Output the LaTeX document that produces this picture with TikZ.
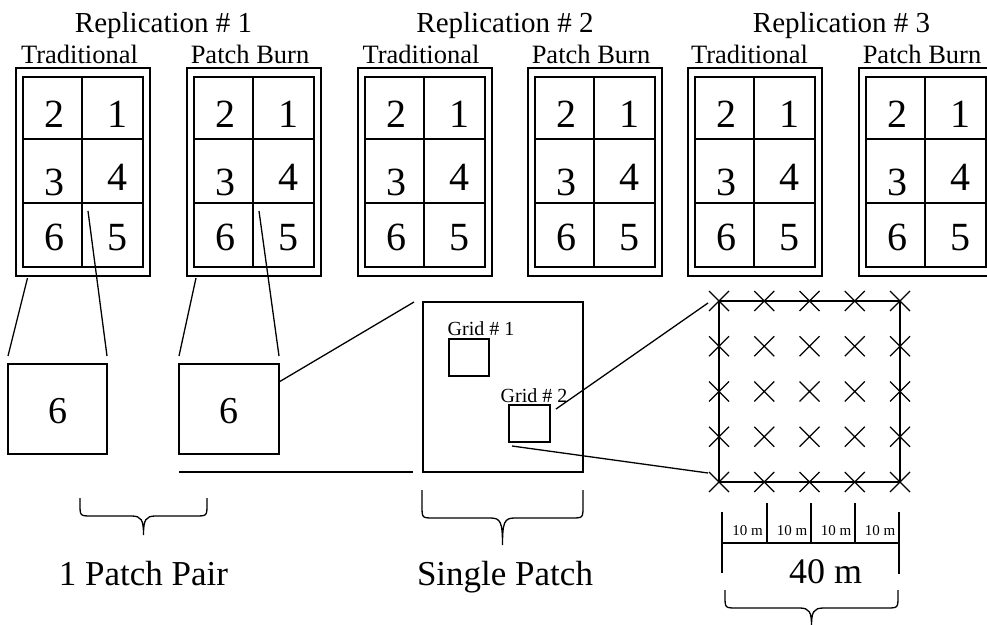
\documentclass[tikz,border=0pt]{standalone}
\usepackage{fontspec}
\setmainfont{Liberation Serif}
\usetikzlibrary{calc}

% Fonts at fixed sizes (1 unit = 1pt)
\newcommand\fsz[1]{\fontsize{#1}{#1}\selectfont}

% One pasture: outer frame, inner frame split into 2 x 3 patches, numbered
% #1 = name, #2 = left edge of the outer frame
\newcommand\pasture[2]{%
  \node[frame, minimum width=134, minimum height=208, anchor=north west] (#1) at (#2,68) {};
  \node[frame, minimum width=120, minimum height=190, anchor=north west] (#1in) at (#2+7,77) {};
  \draw[thin line] (#2+66,77) -- (#2+66,267);
  \draw[thin line] (#2+7,139) -- (#2+127,139);
  \draw[thin line] (#2+7,203) -- (#2+127,203);
  \node[digit] (#1p2) at (#2+38,127) {2};
  \node[digit] (#1p1) at (#2+101,127) {1};
  \node[digit] (#1p3) at (#2+38,195) {3};
  \node[digit] (#1p4) at (#2+101,190) {4};
  \node[digit] (#1p6) at (#2+38,250) {6};
  \node[digit] (#1p5) at (#2+101,250) {5};
}

% Curly brace opening downwards
% #1 left x, #2 right x, #3 top of the ends, #4 level of the bar, #5 tip
\newcommand\curlybrace[5]{%
  \draw (#1,#3) -- (#1,#4-12) .. controls (#1,#4) .. (#1+12,#4)
    -- ({(#1+#2)/2-12},#4) .. controls ({(#1+#2)/2-2},#4) and ({(#1+#2)/2},#4+4) .. ({(#1+#2)/2},#5)
    .. controls ({(#1+#2)/2},#4+4) and ({(#1+#2)/2+2},#4) .. ({(#1+#2)/2+12},#4)
    -- (#2-12,#4) .. controls (#2,#4) .. (#2,#4-12) -- (#2,#3);
}

\begin{document}
\begin{tikzpicture}[x=1pt, y=-1pt, line width=1.3pt,
  frame/.style={draw, line width=1.4pt, inner sep=0pt, outer sep=0pt},
  thin line/.style={line width=1.2pt},
  digit/.style={anchor=base, inner sep=0pt, font=\fsz{40}},
  head/.style={anchor=base, inner sep=0pt, font=\fsz{29}},
  sub/.style={anchor=base, inner sep=0pt, font=\fsz{26.5}},
  caption/.style={anchor=base, inner sep=0pt, font=\fsz{35}},
  small/.style={anchor=base, inner sep=0pt, font=\fsz{15}},
  gridlabel/.style={anchor=base west, inner sep=0pt, font=\fsz{20}},
  crossmark/.style={line width=1.1pt}]

\useasboundingbox (0,0) rectangle (987,624);
\clip (0,0) rectangle (987,624);

% ---- Replication headings ----
\node[head] (rep1) at (163.5,32) {Replication \# 1};
\node[head] (rep2) at (505,32) {Replication \# 2};
\node[head] (rep3) at (841.5,32) {Replication \# 3};

% ---- Treatment labels ----
\node[sub] (lt1) at (79.5,63) {Traditional};
\node[sub] (lb1) at (250,63) {Patch Burn};
\node[sub] (lt2) at (421,63) {Traditional};
\node[sub] (lb2) at (591,63) {Patch Burn};
\node[sub] (lt3) at (749.5,63) {Traditional};
\node[sub] (lb3) at (922,63) {Patch Burn};

% ---- Pastures ----
\pasture{T1}{16}
\pasture{B1}{187}
\pasture{T2}{358}
\pasture{B2}{528}
\pasture{T3}{688}
\pasture{B3}{859}

% ---- Enlarged patch 6 of each pasture in replication 1 ----
\node[frame, minimum width=99, minimum height=90] (s1) at (57.5,409) {};
\node[frame, minimum width=100, minimum height=90] (s2) at (229,409) {};
\node[digit, font=\fsz{38}] (s1n) at (57.5,423) {6};
\node[digit, font=\fsz{38}] (s2n) at (229,423) {6};

\coordinate (t1l) at (27.5,278);
\coordinate (t1r) at (88,211);
\coordinate (b1l) at (196,278);
\coordinate (b1r) at (259,211);
\draw (t1l) -- ($(s1.north west)+(0,-8)$);
\draw (t1r) -- ($(s1.north east)+(0,-8)$);
\draw (b1l) -- ($(s2.north west)+(0,-8)$);
\draw (b1r) -- ($(s2.north east)+(0,-8)$);

% ---- Single patch with its two sampling grids ----
\node[frame, minimum width=160, minimum height=170] (sp) at (503,387) {};
\node[frame, minimum width=40, minimum height=37] (g1) at (469,357.5) {};
\node[frame, minimum width=41, minimum height=37] (g2) at (529.5,423.5) {};
\node[gridlabel] (g1l) at (447,335) {Grid \# 1};
\node[gridlabel] (g2l) at (500,402) {Grid \# 2};

\draw ($(s2.north east)+(0,18)$) -- ($(sp.north west)+(-9,0)$);
\coordinate (baseL) at (179,472);
\coordinate (baseR) at (413,472);
\draw (baseL) -- (baseR);

% ---- Enlarged grid with sampling points ----
\node[frame, line width=1.2pt, minimum width=181, minimum height=181] (big) at (809.5,391.5) {};
\foreach \i in {0,...,4}
  \foreach \j in {0,...,4}
    \draw[crossmark] (719+45.25*\i-10,301+45.25*\j-10) -- ++(20,20)
                     (719+45.25*\i-10,301+45.25*\j+10) -- ++(20,-20);

\draw ($(g2.north east)+(6,4)$) -- ($(big.north west)+(-11,2)$);
\draw ($(g2.south west)+(3,4)$) -- ($(big.south west)+(-11,-9)$);

% ---- Scale bar ----
\coordinate (sb0) at (722,543);
\coordinate (sb4) at (899,543);
\draw[thin line] (sb0) -- (sb4);
\draw[thin line] (722,512) -- (722,573);
\draw[thin line] (899,512) -- (899,574);
\foreach \x in {767,811,855}
  \draw[thin line] (\x,503) -- (\x,543);
\foreach \x/\n in {747.5/a,792/b,836/c,880/d}
  \node[small] (ten\n) at (\x,535) {10 m};
\node[caption, font=\fsz{36}] (forty) at (825.5,583) {40 m};

% ---- Braces and captions ----
\curlybrace{80}{207}{498}{516}{535}
\curlybrace{422}{583}{490}{518}{545}
\curlybrace{725}{898}{590}{608}{626}
\node[caption] (pair) at (143.5,585) {1 Patch Pair};
\node[caption] (single) at (505,585) {Single Patch};

\end{tikzpicture}
\end{document}
